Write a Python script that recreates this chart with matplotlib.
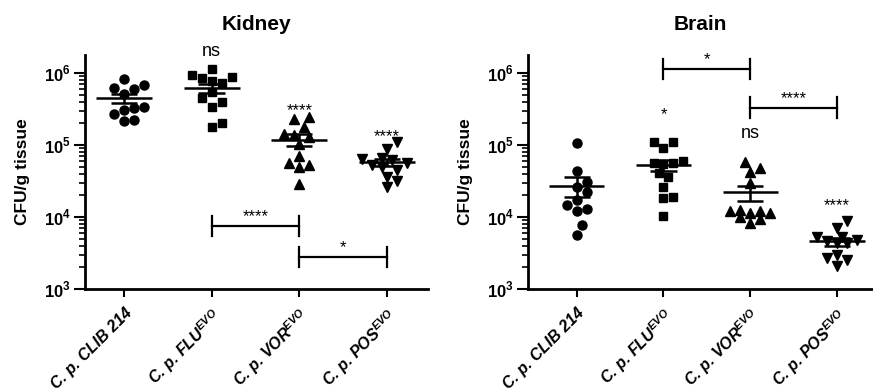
import numpy as np
import matplotlib.pyplot as plt

plt.rcParams['font.family'] = ['Liberation Sans', 'DejaVu Sans']
plt.rcParams['mathtext.fontset'] = 'custom'
plt.rcParams['mathtext.rm'] = 'Liberation Sans'
plt.rcParams['mathtext.bf'] = 'Liberation Sans:bold'

groups = ['C. p. CLIB 214', r'C. p. FLU$^{\mathregular{EVO}}$',
          r'C. p. VOR$^{\mathregular{EVO}}$', r'C. p. POS$^{\mathregular{EVO}}$']
markers = ['o', 's', '^', 'v']
marker_sizes = [6.5, 6.3, 7.0, 7.0]

# Kidney CFU/g tissue
kidney_clib = [8.3e5, 6.7e5, 6.0e5, 6.25e5, 5.1e5, 3.4e5, 3.3e5, 2.7e5, 3.05e5, 2.15e5, 2.2e5]
kidney_flu = [1.12e6, 9.4e5, 8.4e5, 7.2e5, 7.6e5, 8.9e5, 5.5e5, 4.0e5, 3.4e5, 4.45e5, 1.8e5, 2.0e5]
kidney_vor = [2.3e5, 2.47e5, 1.8e5, 1.3e5, 1.41e5, 1.38e5, 1.02e5, 6.9e4, 5.2e4, 5.0e4, 5.6e4, 2.85e4]
kidney_pos = [1.1e5, 8.8e4, 6.4e4, 6.2e4, 6.6e4, 5.6e4, 5.2e4, 4.9e4, 4.5e4, 3.6e4, 3.2e4, 2.6e4]

# Brain CFU/g tissue
brain_clib = [1.06e5, 4.4e4, 3.1e4, 2.24e4, 2.59e4, 1.72e4, 1.29e4, 1.47e4, 1.19e4, 7.7e3, 5.6e3]
brain_flu = [1.08e5, 9.0e4, 1.11e5, 5.6e4, 5.6e4, 5.9e4, 5.4e4, 3.6e4, 4.05e4, 2.64e4, 1.91e4, 1.82e4, 1.03e4]
brain_vor = [4.75e4, 4.25e4, 5.7e4, 2.94e4, 1.15e4, 1.19e4, 1.01e4, 8.3e3, 9.3e3, 1.25e4, 1.12e4, 1.19e4]
brain_pos = [8.8e3, 7.1e3, 5.2e3, 5.3e3, 4.8e3, 4.6e3, 4.3e3, 4.3e3, 3.0e3, 2.7e3, 2.1e3, 2.5e3]

kidney_data = [kidney_clib, kidney_flu, kidney_vor, kidney_pos]
brain_data = [brain_clib, brain_flu, brain_vor, brain_pos]

# significance vs CLIB 214: (group, label, y)
kidney_sig = [(1, 'ns', 2.0e6), (2, '****', 3.0e5), (3, '****', 1.3e5)]
brain_sig = [(1, '*', 2.6e5), (2, 'ns', 1.45e5), (3, '****', 1.45e4)]
# pairwise brackets: (left group, right group, label, y)
kidney_brackets = [(1, 2, '****', 7.5e3), (2, 3, '*', 2.8e3)]
brain_brackets = [(1, 2, '*', 1.12e6), (2, 3, '****', 3.3e5)]


def swarm(values, px_unit=87.5, px_decade=72.0, dist=10.0, step=5.0, max_px=28.0):
    # simple beeswarm in pixel space, limited width
    y = np.log10(values) * px_decade
    offs = np.zeros(len(values))
    placed = []
    cands = [0.0]
    k = 1
    while k * step <= max_px:
        cands += [k * step, -k * step]
        k += 1
    for i in np.argsort(y):
        best, best_d = 0.0, -1
        for c in cands:
            d = min([np.hypot(c - px, y[i] - py) for px, py in placed] or [1e9])
            if d >= dist:
                best = c
                break
            if d > best_d:
                best, best_d = c, d
        placed.append((best, y[i]))
        offs[i] = best / px_unit
    return offs


def draw_panel(ax, data, title, xlim, sig, brackets):
    for i, vals in enumerate(data):
        vals = np.array(vals)
        x = i + swarm(vals)
        ax.plot(x, vals, linestyle='none', marker=markers[i], ms=marker_sizes[i],
                color='black', zorder=3)
        m = vals.mean()
        sem = vals.std(ddof=1) / np.sqrt(len(vals))
        ax.hlines(m, i - 0.32, i + 0.32, color='black', lw=1.8, zorder=4)
        ax.hlines([m - sem, m + sem], i - 0.15, i + 0.15, color='black', lw=1.8, zorder=4)
        ax.vlines(i, m - sem, m + sem, color='black', lw=1.8, zorder=4)

    for i, lab, y in sig:
        fs = 13 if lab == 'ns' else 12
        ax.text(i, y, lab, ha='center', va='center', fontsize=fs)

    for a, b, lab, y in brackets:
        ax.plot([a, b], [y, y], color='black', lw=1.6)
        ax.plot([a, a], [y / 1.38, y * 1.38], color='black', lw=1.6)
        ax.plot([b, b], [y / 1.38, y * 1.38], color='black', lw=1.6)
        ax.text((a + b) / 2, y * 1.35, lab, ha='center', va='center', fontsize=12)

    ax.set_yscale('log')
    ax.set_ylim(1e3, 10 ** 6.25)
    ax.set_xlim(*xlim)
    ax.set_yticks([1e3, 1e4, 1e5, 1e6])
    ax.set_yticklabels([r'10$^{\mathregular{%d}}$' % p for p in [3, 4, 5, 6]],
                       fontsize=12, fontweight='bold')
    ax.set_xticks(range(4))
    ax.set_xticklabels(groups, rotation=45, ha='right', va='top', rotation_mode='anchor',
                       fontsize=11.5, fontweight='bold', fontstyle='italic')
    ax.spines['top'].set_visible(False)
    ax.spines['right'].set_visible(False)
    ax.spines['left'].set_linewidth(2)
    ax.spines['bottom'].set_linewidth(2)
    ax.tick_params(axis='y', which='major', length=8, width=1.5, pad=2)
    ax.tick_params(axis='y', which='minor', length=4, width=1.2)
    ax.tick_params(axis='x', length=6, width=1.5, pad=6)
    ax.set_ylabel('CFU/g tissue', fontsize=12.5, fontweight='bold', labelpad=10)
    ax.set_title(title, fontsize=15, fontweight='bold', pad=18)


fig = plt.figure(figsize=(8.73, 3.92), dpi=100)
ax1 = fig.add_axes([0.0974, 0.263, 0.3929, 0.597])
ax2 = fig.add_axes([0.6048, 0.263, 0.394, 0.597])

draw_panel(ax1, kidney_data, 'Kidney', (-0.445, 3.47), kidney_sig, kidney_brackets)
draw_panel(ax2, brain_data, 'Brain', (-0.56, 3.4), brain_sig, brain_brackets)

fig.savefig('out.png', dpi=100)
